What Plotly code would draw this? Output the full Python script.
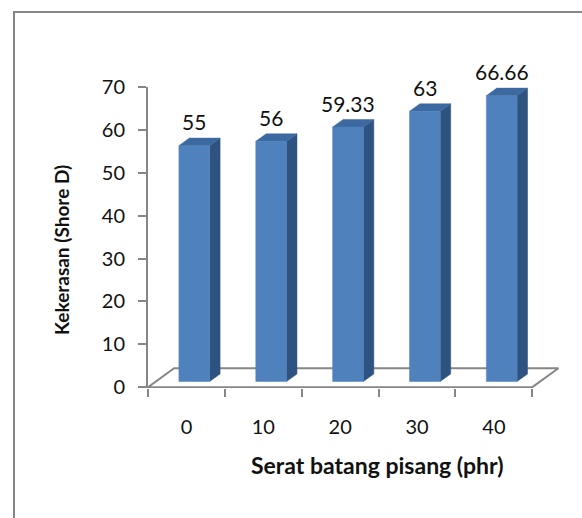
import plotly.graph_objects as go

# Hardness of composites vs. banana stem fibre loading
categories = ["0", "10", "20", "30", "40"]
hardness = [55, 56, 59.33, 63, 66.66]
value_labels = ["55", "56", "59.33", "63", "66.66"]
y_ticks = [0, 10, 20, 30, 40, 50, 60, 70]

# pseudo-3D geometry (in axis units)
DEPTH_X = 0.34      # horizontal shift of the floor's back edge (category units)
DEPTH_Y = 4.4       # vertical shift of the floor's back edge (value units)
T0, T1 = 0.3, 0.7   # front/back position of the columns inside the floor depth
BAR_W = 0.4

FRONT = "#4F81BD"
SIDE = "#2E5380"
TOP = "#3D69A1"
GRID = "#868686"
TEXT = "#111111"
FONT = "Lato"

# plot-area placement in pixels (figure 582 x 518)
W, H = 582, 518
L, R, T, B = 148, 560, 87, 388


def px(xp):
    return (xp - L) / (R - L)


def py(yp):
    return (B - yp) / (B - T)


fig = go.Figure()

n = len(categories)
# floor of the 3D plot
fx = [-0.5, n - 0.5, n - 0.5 + DEPTH_X, -0.5 + DEPTH_X, -0.5]
fy = [0, 0, DEPTH_Y, DEPTH_Y, 0]
fig.add_trace(go.Scatter(x=fx, y=fy, mode="lines", fill="toself",
                         fillcolor="white", line=dict(color=GRID, width=2),
                         hoverinfo="skip", showlegend=False))

for i, v in enumerate(hardness):
    x0 = i - BAR_W / 2 + T0 * DEPTH_X
    x1 = x0 + BAR_W
    y0 = T0 * DEPTH_Y
    y1 = y0 + v
    ddx = (T1 - T0) * DEPTH_X
    ddy = (T1 - T0) * DEPTH_Y
    # right side face
    fig.add_trace(go.Scatter(x=[x1, x1 + ddx, x1 + ddx, x1, x1],
                             y=[y0, y0 + ddy, y1 + ddy, y1, y0],
                             mode="lines", fill="toself", fillcolor=SIDE,
                             line=dict(color=SIDE, width=0.5),
                             hoverinfo="skip", showlegend=False))
    # top face
    fig.add_trace(go.Scatter(x=[x0, x1, x1 + ddx, x0 + ddx, x0],
                             y=[y1, y1, y1 + ddy, y1 + ddy, y1],
                             mode="lines", fill="toself", fillcolor=TOP,
                             line=dict(color=TOP, width=0.5),
                             hoverinfo="skip", showlegend=False))
    # front face
    fig.add_trace(go.Scatter(x=[x0, x1, x1, x0, x0],
                             y=[y0, y0, y1, y1, y0],
                             mode="lines", fill="toself", fillcolor=FRONT,
                             line=dict(color=FRONT, width=0.5),
                             hoverinfo="skip", showlegend=False))
    fig.add_annotation(x=i + T0 * DEPTH_X, y=y1, text=value_labels[i],
                       showarrow=False, yanchor="middle", yshift=24,
                       font=dict(family=FONT, size=21, color=TEXT))

fig.update_xaxes(range=[-0.5, n - 0.5 + 0.36], showline=False, showgrid=False,
                 zeroline=False, tickmode="array", tickvals=list(range(n)),
                 ticktext=categories, ticks="", ticklabelstandoff=25,
                 tickfont=dict(family=FONT, size=20, color=TEXT),
                 minor=dict(tickmode="array",
                            tickvals=[k - 0.5 for k in range(n + 1)],
                            ticks="outside", ticklen=8, tickwidth=2,
                            tickcolor=GRID, showgrid=False),
                 fixedrange=True)
fig.update_yaxes(range=[-0.2, 70], showline=True, linecolor=GRID, linewidth=2,
                 showgrid=False, zeroline=False, tickmode="array",
                 tickvals=y_ticks, ticks="outside", ticklen=8, tickwidth=2,
                 tickcolor=GRID, ticklabelstandoff=9,
                 tickfont=dict(family=FONT, size=20, color=TEXT),
                 fixedrange=True)

# axis titles
fig.add_annotation(xref="paper", yref="paper", x=px(61), y=py(250),
                   text="<b>Kekerasan (Shore D)</b>", textangle=-90,
                   showarrow=False, xanchor="center", yanchor="middle",
                   font=dict(family=FONT, size=19, color=TEXT))
fig.add_annotation(xref="paper", yref="paper", x=px(377), y=py(465),
                   text="<b>Serat batang pisang (phr)</b>",
                   showarrow=False, xanchor="center", yanchor="middle",
                   font=dict(family=FONT, size=23, color=TEXT))

# chart frame
fig.add_shape(type="rect", xref="paper", yref="paper",
              x0=px(14), x1=px(W + 20), y0=py(H + 20), y1=py(12),
              line=dict(color=GRID, width=2), fillcolor="rgba(0,0,0,0)")

fig.update_layout(width=W, height=H, plot_bgcolor="white",
                  paper_bgcolor="white",
                  margin=dict(l=L, r=W - R, t=T, b=H - B),
                  showlegend=False)

fig.write_html("out.html")
